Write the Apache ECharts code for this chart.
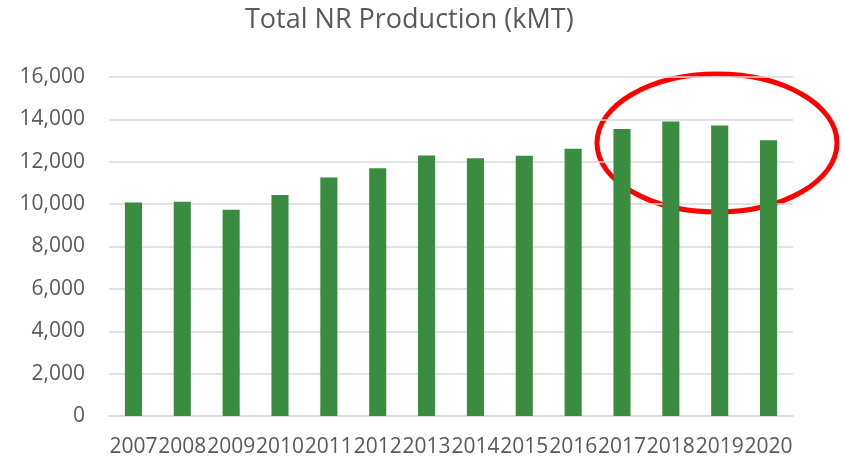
<!DOCTYPE html>
<html>
<head>
<meta charset="utf-8">
<script src="https://cdn.jsdelivr.net/npm/echarts@6/dist/echarts.min.js"></script>
<style>
  html, body { margin: 0; padding: 0; background: #fff; }
  #chart { width: 846px; height: 460px; }
</style>
</head>
<body>
<div id="chart"></div>
<script>
const years = ["2007", "2008", "2009", "2010", "2011", "2012", "2013",
  "2014", "2015", "2016", "2017", "2018", "2019", "2020"];
const production = [10080, 10110, 9730, 10430, 11260, 11690, 12300,
  12160, 12280, 12610, 13550, 13900, 13710, 13020];
const yTicks = [0, 2000, 4000, 6000, 8000, 10000, 12000, 14000, 16000];

const FONT = "'Open Sans', 'Noto Sans', sans-serif";
const TEXT = "#595959";

const chart = echarts.init(document.getElementById("chart"));

chart.setOption({
  animation: false,
  title: {
    text: "Total NR Production (kMT)",
    left: 240,
    top: 2,
    textStyle: { fontFamily: FONT, fontSize: 27, fontWeight: "normal", color: TEXT }
  },
  grid: { left: 109, right: 53, top: 77, bottom: 44 },
  xAxis: {
    type: "category",
    data: years,
    axisLine: { lineStyle: { color: "#d9d9d9", width: 1.5 } },
    axisTick: { show: false },
    axisLabel: { interval: 0, margin: 21, color: TEXT, fontFamily: FONT, fontSize: 21 }
  },
  yAxis: {
    type: "value",
    min: yTicks[0],
    max: yTicks[yTicks.length - 1],
    interval: 2000,
    axisLine: { show: false },
    axisTick: { show: false },
    splitLine: { lineStyle: { color: "#d9d9d9", width: 1.5 } },
    axisLabel: {
      margin: 24,
      color: TEXT,
      fontFamily: FONT,
      fontSize: 21,
      formatter: (v) => v.toLocaleString("en-US")
    }
  },
  series: [
    {
      type: "bar",
      data: production,
      barWidth: "35%",
      itemStyle: { color: "#3a8c41" }
    }
  ],
  graphic: [
    {
      type: "ellipse",
      shape: { cx: 717, cy: 143, rx: 120, ry: 69 },
      style: { fill: "none", stroke: "#ff0000", lineWidth: 5 }
    }
  ]
});
</script>
</body>
</html>
